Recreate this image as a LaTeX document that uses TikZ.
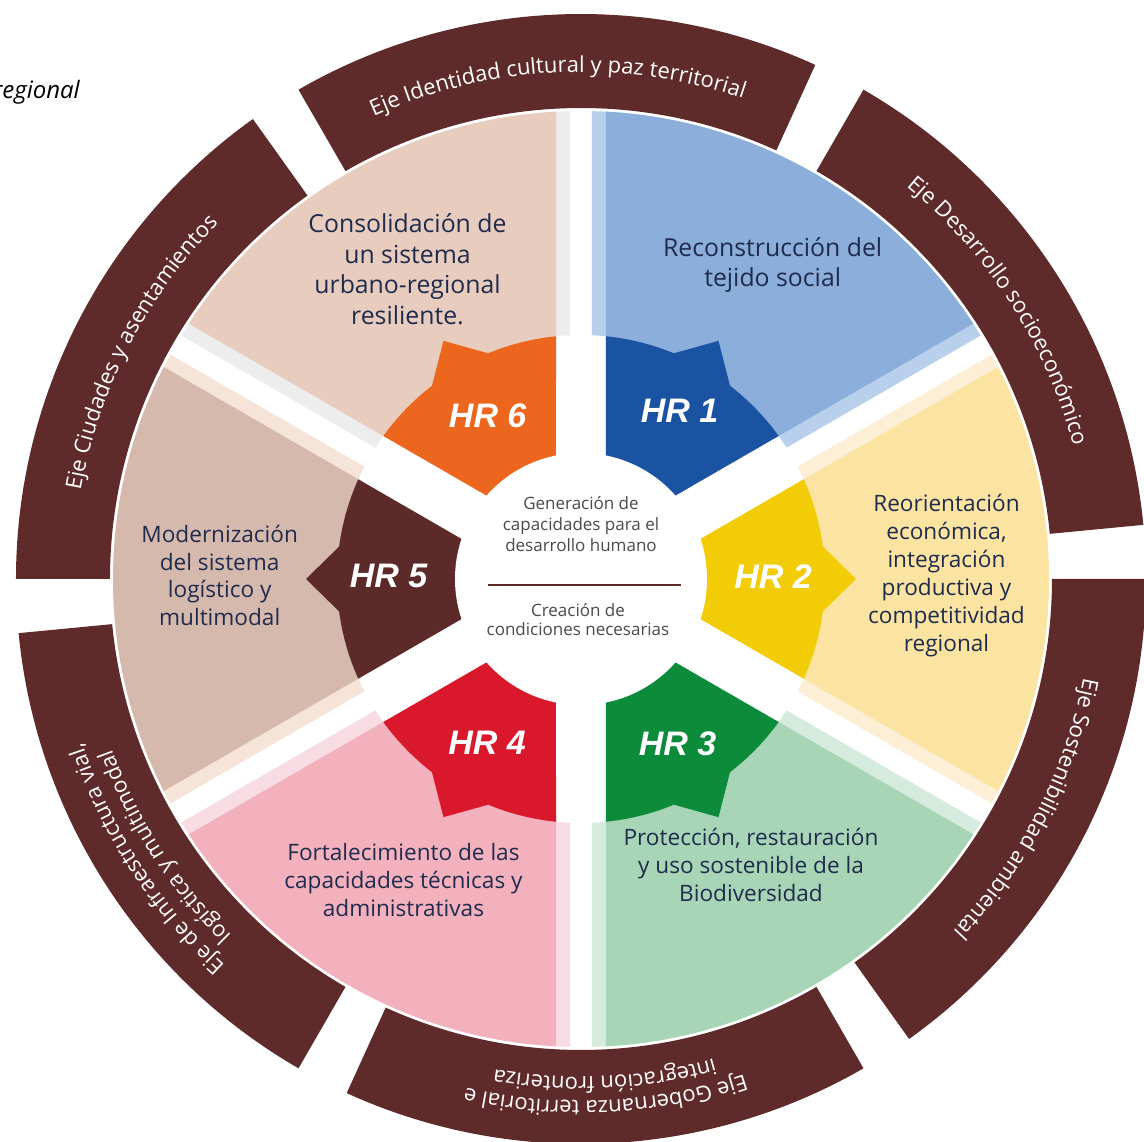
\documentclass[tikz,border=0pt]{standalone}
\usepackage{fontspec}
\setmainfont{Open Sans}
\newfontfamily\hrfamily{Liberation Sans}
\usetikzlibrary{decorations.text}
\definecolor{ringbrown}{HTML}{5E2A2A}
\definecolor{navytext}{HTML}{1F2B4D}
\definecolor{greytext}{HTML}{4A4A4A}
\definecolor{lightA}{HTML}{B9D0EC}\definecolor{mainA}{HTML}{8CAEDA}\definecolor{darkA}{HTML}{1B53A3}
\definecolor{lightB}{HTML}{FDEFD5}\definecolor{mainB}{HTML}{FBE3A1}\definecolor{darkB}{HTML}{F2CC06}
\definecolor{lightC}{HTML}{D5EBDD}\definecolor{mainC}{HTML}{A8D5B6}\definecolor{darkC}{HTML}{0C8C3B}
\definecolor{lightD}{HTML}{F8DCE4}\definecolor{mainD}{HTML}{F3B1BD}\definecolor{darkD}{HTML}{D9192B}
\definecolor{lightE}{HTML}{F6E4D9}\definecolor{mainE}{HTML}{D6B9AD}\definecolor{darkE}{HTML}{5D2A2A}
\definecolor{lightF}{HTML}{EDEDED}\definecolor{mainF}{HTML}{E8CDBF}\definecolor{darkF}{HTML}{EC661E}
\newcommand\ringfmt{\fontsize{22}{22}\selectfont\color{white}}
% #1 a1, #2 a2, #3 centre angle, #4 light, #5 main, #6 dark
\newcommand\hrsector[6]{%
 \fill[#4] ({#1-asin(11/468)}:468) arc[start angle={#1-asin(11/468)}, end angle={#2+asin(11/468)}, radius=468]
   -- ({#2+asin(11/244)}:244) arc[start angle={#2+asin(11/244)}, end angle={#1-asin(11/244)}, radius=244] -- cycle;
 \fill[#5] ({#1-asin(25/468)}:468) arc[start angle={#1-asin(25/468)}, end angle={#2+asin(25/468)}, radius=468]
   -- ({#2+asin(25/240)}:240) arc[start angle={#2+asin(25/240)}, end angle={#1-asin(25/240)}, radius=240] -- cycle;
 \begin{scope}
  \clip (#3:50) -- ({#1-asin(25/400)}:400) -- ({#2+asin(25/400)}:400) -- cycle;
  \fill[#6] (0,0) circle[radius=244];
  \fill[#6] ({#3+7.65}:244) -- (#3:275) -- ({#3-7.65}:244) -- cycle;
 \end{scope}}
\tikzset{
 secttext/.style={align=center, text=navytext, inner sep=0pt},
 hrlabel/.style={font=\hrfamily\bfseries\itshape\fontsize{34}{34}\selectfont, text=white, inner sep=0pt},
 centertext/.style={align=center, text=greytext, inner sep=0pt},
 ringtext/.style={decorate, decoration={text along path, text align=center, text={|\ringfmt|#1}}}
}
\begin{document}
\begin{tikzpicture}[x=1pt,y=1pt]
\useasboundingbox (-581,-563) rectangle (563,579);
\fill[white] (-581,-563) rectangle (563,579);
\clip (-581,-563) rectangle (563,579);
% caption fragment
\node[anchor=base east, inner sep=0pt, font=\itshape\fontsize{24}{24}\selectfont, text=black] (caption) at (-501,480) {regional};
% outer ring
\foreach \k in {-2,...,3}{
 \fill[ringbrown] ({60*\k-54.5}:471) -- ({60*\k-54.5}:565) arc[start angle={60*\k-54.5}, end angle={60*\k}, radius=565]
   -- ({60*\k}:471) arc[start angle={60*\k}, end angle={60*\k-54.5}, radius=471] -- cycle;
}
\path[ringtext={Eje Identidad cultural y paz territorial}] (120:507) arc[start angle=120, end angle=65.5, radius=507];
\path[ringtext={Eje Desarrollo socioeconómico}] (60:510) arc[start angle=60, end angle=5.5, radius=510];
\path[ringtext={Eje Sostenibilidad ambiental}] (0:512) arc[start angle=0, end angle=-54.5, radius=512];
\path[ringtext={Eje Gobernanza territorial e}] (-60:522) arc[start angle=-60, end angle=-114.5, radius=522];
\path[ringtext={integración fronteriza}] (-60:498) arc[start angle=-60, end angle=-114.5, radius=498];
\path[ringtext={Eje de Infraestructura vial,}] (-120:525) arc[start angle=-120, end angle=-174.5, radius=525];
\path[ringtext={logística y multimodal}] (-120:499) arc[start angle=-120, end angle=-174.5, radius=499];
\path[ringtext={Eje Ciudades y asentamientos}] (180:508) arc[start angle=180, end angle=125.5, radius=508];
% sectors
\hrsector{90}{30}{60}{lightA}{mainA}{darkA}
\hrsector{30}{-30}{0}{lightB}{mainB}{darkB}
\hrsector{-30}{-90}{-60}{lightC}{mainC}{darkC}
\hrsector{-90}{-150}{-120}{lightD}{mainD}{darkD}
\hrsector{-150}{-210}{-180}{lightE}{mainE}{darkE}
\hrsector{150}{90}{120}{lightF}{mainF}{darkF}
% centre
\node[circle, fill=white, minimum size=252pt, inner sep=0pt] (core) at (0,0) {};
\node[centertext, anchor=north, font=\fontsize{17}{21}\selectfont] (gen) at (0,83) {Generación de\\capacidades para el\\desarrollo humano};
\node[centertext, anchor=north, font=\fontsize{17}{19}\selectfont] (crea) at (-3,-24) {Creación de\\condiciones necesarias};
\coordinate (lineL) at (-93,-6);
\coordinate (lineR) at (100,-6);
\draw[ringbrown, line width=2pt] (lineL) -- (lineR);
% HR labels
\node[hrlabel] (hr1) at (98.5,168) {HR 1};
\node[hrlabel] (hr2) at (192,2) {HR 2};
\node[hrlabel] (hr3) at (96.5,-164.5) {HR 3};
\node[hrlabel] (hr4) at (-94,-164) {HR 4};
\node[hrlabel] (hr5) at (-192.5,3) {HR 5};
\node[hrlabel] (hr6) at (-93.3,163) {HR 6};
% sector texts
\node[secttext, anchor=north, font=\fontsize{24.8}{30.5}\selectfont] (t6) at (-173.5,365.5) {Consolidación de\\un sistema\\urbano-regional\\resiliente.};
\node[secttext, anchor=north, font=\fontsize{24.8}{30.5}\selectfont] (t1) at (191.7,341.7) {Reconstrucción del\\tejido social};
\node[secttext, anchor=north, font=\fontsize{22.6}{28}\selectfont] (t2) at (365.5,85) {Reorientación\\económica,\\integración\\productiva y\\competitividad\\regional};
\node[secttext, anchor=north, font=\fontsize{22.6}{28}\selectfont] (t3) at (170,-249) {Protección, restauración\\y uso sostenible de la\\Biodiversidad};
\node[secttext, anchor=north, font=\fontsize{22.6}{28}\selectfont] (t4) at (-177.5,-264) {Fortalecimiento de las\\capacidades técnicas y\\administrativas};
\node[secttext, anchor=north, font=\fontsize{22.6}{27.7}\selectfont] (t5) at (-361.3,54) {Modernización\\del sistema\\logístico y\\multimodal};
\end{tikzpicture}
\end{document}
